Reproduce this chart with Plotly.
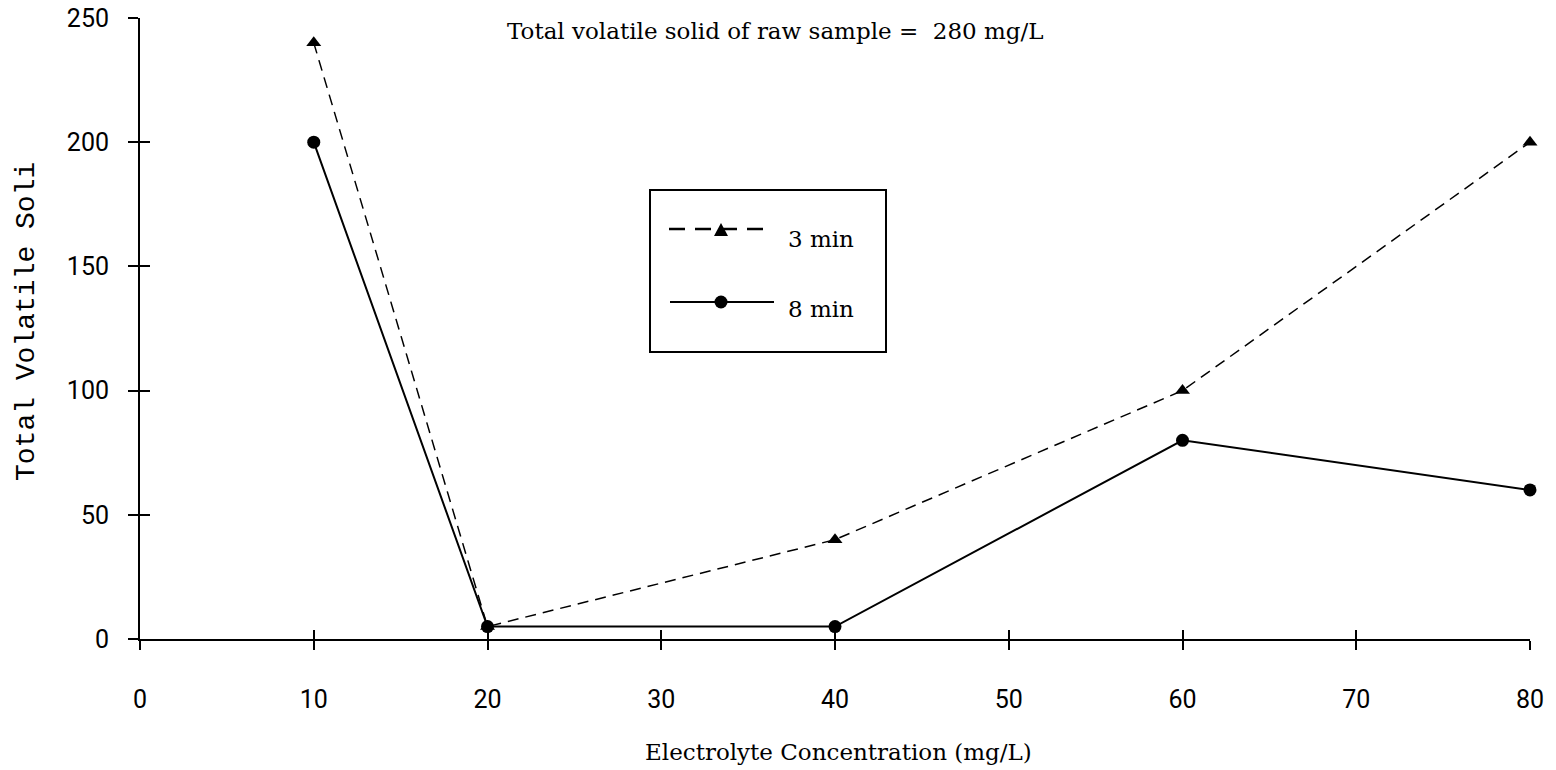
import plotly.graph_objects as go

conc = [10, 20, 40, 60, 80]
tvs_3min = [240, 5, 40, 100, 200]
tvs_8min = [200, 5, 5, 80, 60]
x_ticks = [0, 10, 20, 30, 40, 50, 60, 70, 80]
y_ticks = [0, 50, 100, 150, 200, 250]

fig = go.Figure()
fig.add_trace(go.Scatter(x=conc, y=tvs_3min, mode="lines+markers", name="3 min",
                         line=dict(color="black", width=1.5, dash="11px,7px"),
                         marker=dict(symbol="triangle-up", size=13, color="black"),
                         showlegend=False, cliponaxis=False))
fig.add_trace(go.Scatter(x=conc, y=tvs_8min, mode="lines+markers", name="8 min",
                         line=dict(color="black", width=2),
                         marker=dict(symbol="circle", size=13, color="black"),
                         showlegend=False, cliponaxis=False))

L, R, T, B = 140, 26, 18, 131
W, H = 1556, 770
pw, ph = W - L - R, H - T - B

def px(xp):
    return (xp - L) / pw

def py(yp):
    return (H - B - yp) / ph

shapes = []
# legend box
shapes.append(dict(type="rect", xref="paper", yref="paper", x0=px(650), x1=px(886),
                   y0=py(352), y1=py(190), line=dict(color="black", width=2),
                   fillcolor="white", layer="above"))
shapes.append(dict(type="line", xref="paper", yref="paper", x0=px(669), x1=px(771),
                   y0=py(229), y1=py(229), line=dict(color="black", width=2.5, dash="16px,10px")))
shapes.append(dict(type="line", xref="paper", yref="paper", x0=px(670), x1=px(774),
                   y0=py(302), y1=py(302), line=dict(color="black", width=2)))
# legend markers
shapes.append(dict(type="path", xref="paper", yref="paper", xsizemode="pixel", ysizemode="pixel",
                   xanchor=px(721), yanchor=py(230), path="M-7,-6 L7,-6 L0,7 Z",
                   fillcolor="black", line=dict(color="black", width=0)))
shapes.append(dict(type="circle", xref="paper", yref="paper", xsizemode="pixel", ysizemode="pixel",
                   xanchor=px(721), yanchor=py(302), x0=-6.5, x1=6.5, y0=-6.5, y1=6.5,
                   fillcolor="black", line=dict(color="black", width=0)))

serif = "DejaVu Serif"
annotations = [
    dict(text="3 min", xref="paper", yref="paper", x=px(786), y=py(239), xanchor="left",
         yanchor="middle", showarrow=False, font=dict(family=serif, size=23, color="black")),
    dict(text="8 min", xref="paper", yref="paper", x=px(786), y=py(309), xanchor="left",
         yanchor="middle", showarrow=False, font=dict(family=serif, size=23, color="black")),
    dict(text="Total volatile solid of raw sample =  280 mg/L", xref="paper", yref="paper",
         x=px(775), y=py(31), xanchor="center", yanchor="middle", showarrow=False,
         font=dict(family=serif, size=23, color="black")),
    dict(text="Electrolyte Concentration (mg/L)", xref="paper", yref="paper",
         x=px(838), y=py(752), xanchor="center", yanchor="middle", showarrow=False,
         font=dict(family=serif, size=23, color="black")),
    dict(text="Total Volatile Soli", xref="paper", yref="paper", x=px(27), y=py(322),
         xanchor="center", yanchor="middle", textangle=-90, showarrow=False,
         font=dict(family="Liberation Mono", size=28, color="black")),
]

tickfont = dict(family="Roboto", size=25, color="black")
fig.update_layout(
    width=W, height=H, margin=dict(l=L, r=R, t=T, b=B, autoexpand=False),
    plot_bgcolor="white", paper_bgcolor="white",
    shapes=shapes, annotations=annotations,
    xaxis=dict(range=[0, 80], tickvals=x_ticks, showgrid=False, zeroline=False,
               showline=True, linecolor="black", linewidth=2, automargin=False,
               ticks="outside", ticklen=9, tickwidth=2, tickcolor="black",
               ticklabelstandoff=28, tickfont=tickfont),
    yaxis=dict(range=[0, 250], tickvals=y_ticks, showgrid=False, zeroline=False,
               showline=True, linecolor="black", linewidth=2, automargin=False,
               ticks="outside", ticklen=10, tickwidth=2, tickcolor="black",
               ticklabelstandoff=14, tickfont=tickfont),
    xaxis2=dict(range=[0, 80], tickvals=x_ticks, overlaying="x", showgrid=False,
                zeroline=False, showticklabels=False, ticks="inside", ticklen=9,
                tickwidth=2, tickcolor="black", side="bottom", anchor="y", automargin=False),
    yaxis2=dict(range=[0, 250], tickvals=y_ticks, overlaying="y", showgrid=False,
                zeroline=False, showticklabels=False, ticks="inside", ticklen=10,
                tickwidth=2, tickcolor="black", side="left", anchor="x", automargin=False),
)
# invisible trace so the overlay axes draw their inner tick marks
fig.add_trace(go.Scatter(x=[None], y=[None], xaxis="x2", yaxis="y2", showlegend=False,
                         hoverinfo="skip"))

fig.write_html("out.html")
